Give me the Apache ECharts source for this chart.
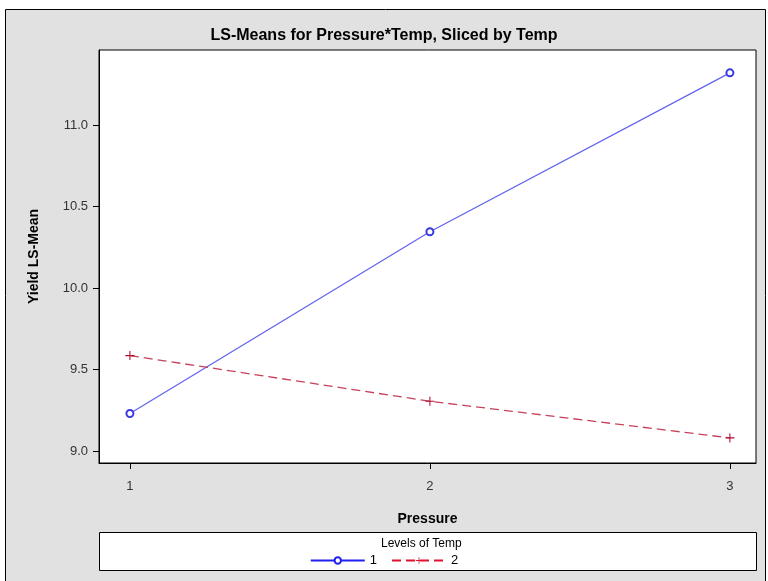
<!DOCTYPE html>
<html><head><meta charset="utf-8">
<script src="https://cdn.jsdelivr.net/npm/echarts@6/dist/echarts.min.js"></script>
<style>html,body{margin:0;padding:0;background:#fff}#c{width:768px;height:581px}</style>
</head><body><div id="c"></div>
<script>
const pressure = [1, 2, 3];
const temp1 = [9.23, 10.345, 11.32];
const temp2 = [9.585, 9.305, 9.08];
const xTicks = [1, 2, 3];
const yTicks = [9.0, 9.5, 10.0, 10.5, 11.0];
const seriesNames = ['1', '2'];

const FONT = 'Liberation Sans, Arial, sans-serif';
const chart = echarts.init(document.getElementById('c'));
const plus = 'path://M4.4,0 H5.6 V4.4 H10 V5.6 H5.6 V10 H4.4 V5.6 H0 V4.4 H4.4 Z';
chart.setOption({
  backgroundColor: '#fff',
  animation: false,
  graphic: [
    {type:'rect', z:-10, shape:{x:5.5,y:9.5,width:760,height:580}, style:{fill:'#e1e1e1', stroke:'#000', lineWidth:1}},
    {type:'rect', z:-5, shape:{x:99.5,y:532.5,width:657,height:38}, style:{fill:'#fff', stroke:'#000', lineWidth:1}},
    {type:'text', z:5, left: 381, top: 538, style:{text:'Levels of Temp', font:'12px ' + FONT, fill:'#000'}}
  ],
  title: {
    text: 'LS-Means for Pressure*Temp, Sliced by Temp',
    left: 'center', top: 23,
    textStyle: {fontFamily: FONT, fontSize: 16, fontWeight: 'bold', color: '#000'}
  },
  legend: {
    bottom: 9, left: 'center',
    itemWidth: 54, itemHeight: 8, itemGap: 14,
    textStyle: {fontFamily: FONT, fontSize: 13, color: '#000'},
    data: [
      {name: seriesNames[0], lineStyle: {color: '#2020f0'}, itemStyle: {color: '#2020f0', borderColor: '#2020f0'}},
      {name: seriesNames[1], lineStyle: {color: '#e01030'}, itemStyle: {color: '#e01030'}}
    ]
  },
  grid: {left: 99, right: 12, top: 50, bottom: 118, show: true, backgroundColor: '#fff', borderColor: '#000', borderWidth: 1},
  xAxis: {
    type: 'value', min: 0.897, max: 3.087,
    name: 'Pressure', nameLocation: 'middle', nameGap: 49,
    nameTextStyle: {fontFamily: FONT, fontSize: 14, fontWeight: 'bold', color: '#000'},
    axisLine: {show: true, onZero: false, lineStyle: {color: '#000'}},
    axisTick: {show: true, length: 6, customValues: xTicks, lineStyle: {color: '#000'}},
    axisLabel: {customValues: xTicks, fontFamily: FONT, fontSize: 13, color: '#333', margin: 17},
    splitLine: {show: false}
  },
  yAxis: {
    type: 'value', min: 8.926, max: 11.46,
    name: 'Yield LS-Mean', nameLocation: 'middle', nameGap: 58,
    nameTextStyle: {fontFamily: FONT, fontSize: 14, fontWeight: 'bold', color: '#000'},
    axisLine: {show: true, lineStyle: {color: '#000'}},
    axisTick: {show: true, length: 6, customValues: yTicks, lineStyle: {color: '#000'}},
    axisLabel: {customValues: yTicks, fontFamily: FONT, fontSize: 13, color: '#333', margin: 11,
      formatter: v => v.toFixed(1)},
    splitLine: {show: false}
  },
  series: [
    {name: seriesNames[0], type: 'line', data: pressure.map((p,i)=>[p, temp1[i]]),
      symbol: 'emptyCircle', symbolSize: 7,
      lineStyle: {color: '#6464ee', width: 1.3},
      itemStyle: {color: '#3a3ae0', borderColor: '#3a3ae0', borderWidth: 1.1}},
    {name: seriesNames[1], type: 'line', data: pressure.map((p,i)=>[p, temp2[i]]),
      symbol: plus, symbolSize: 9,
      lineStyle: {color: '#c8405a', width: 1.3, type: [9, 5]},
      itemStyle: {color: '#b01030'}}
  ]
});
</script></body></html>
